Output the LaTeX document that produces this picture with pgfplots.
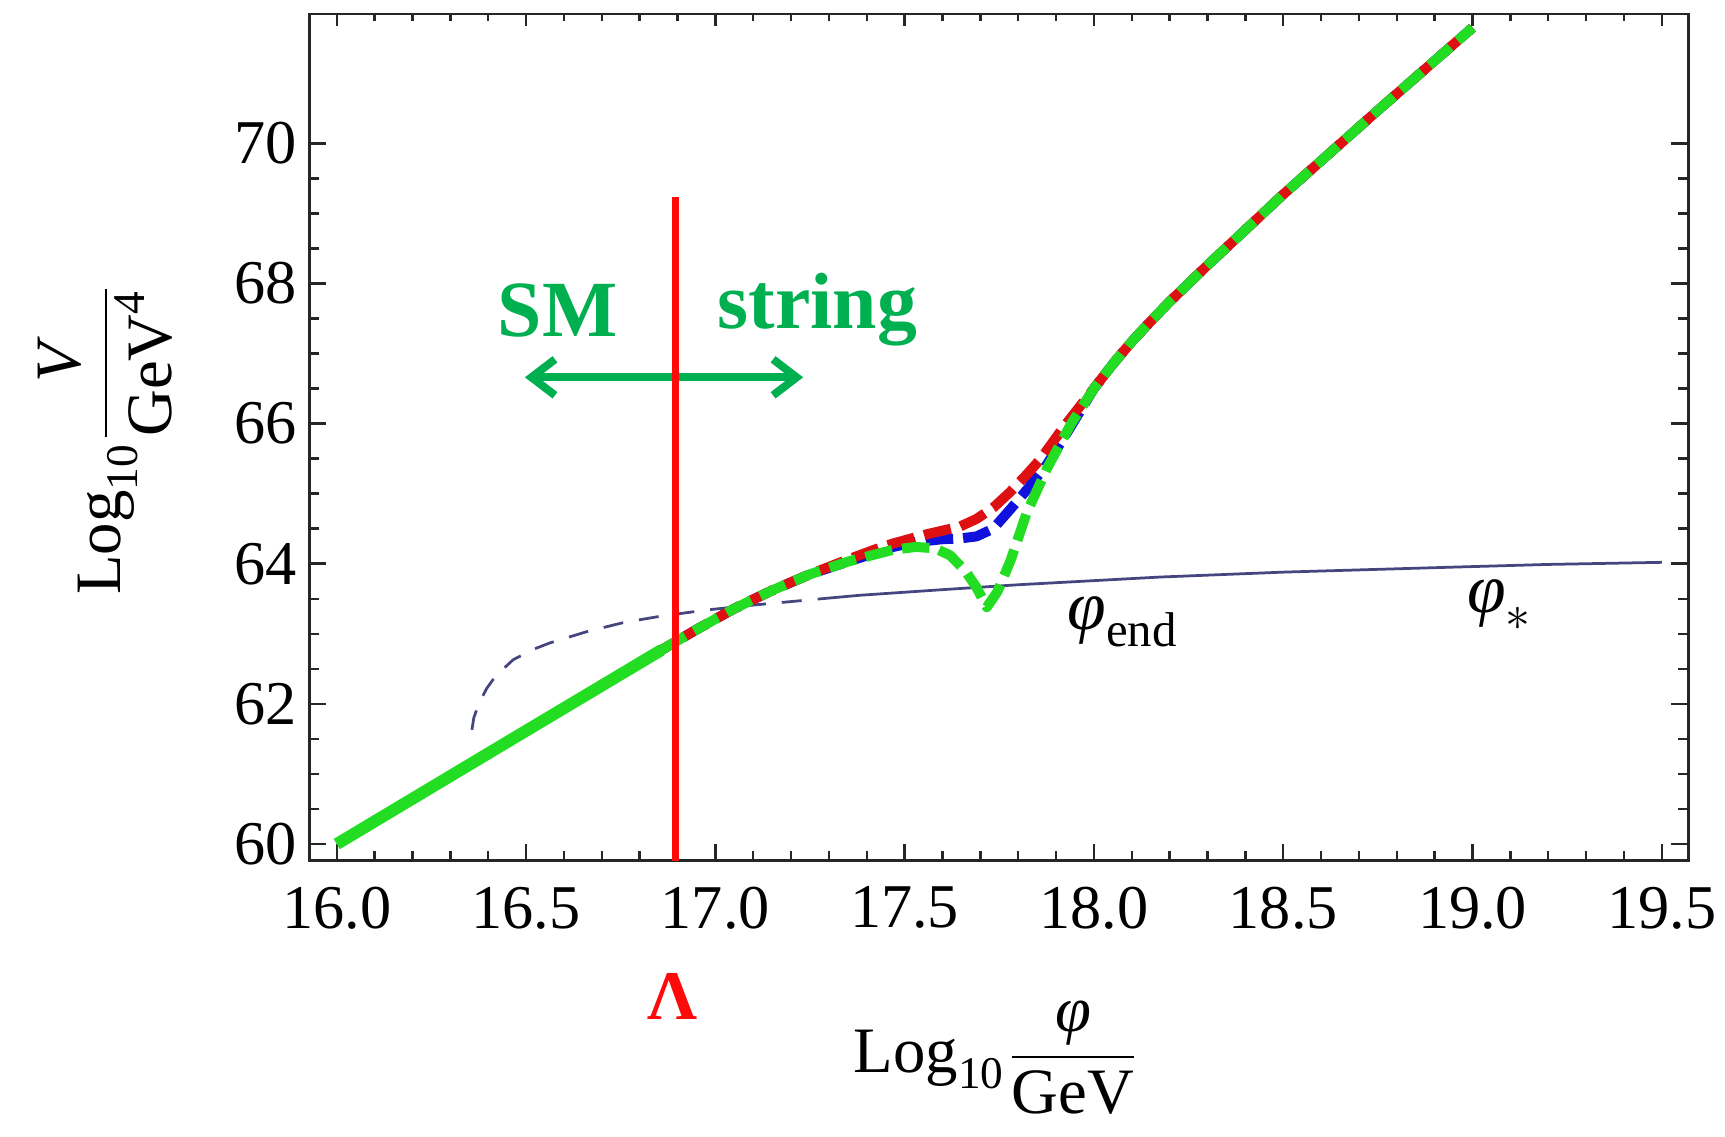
\documentclass[border=0pt]{standalone}
\usepackage{fontspec}
\setmainfont{Liberation Serif}
\usepackage{amsmath}
\usepackage{pgfplots}
\pgfplotsset{compat=1.18}
\usetikzlibrary{arrows.meta}

\definecolor{limegreen}{HTML}{22DD22}
\definecolor{curvered}{HTML}{DD1111}
\definecolor{curveblue}{HTML}{1111DD}
\definecolor{lambdared}{HTML}{FF0A0A}
\definecolor{thinnavy}{HTML}{45457F}
\definecolor{smgreen}{HTML}{00B050}

\pgfplotsset{
  boxframe/.style={
    scale only axis, width=275.76bp, height=169.34bp,
    xmin=15.928, xmax=19.570, ymin=59.762, ymax=71.845,
    xtick={16,16.5,17,17.5,18,18.5,19,19.5}, minor x tick num=4,
    tick align=inside,
    axis line style={line width=0.5bp, black!85},
    tick style={line width=0.5bp, black!85},
  },
}

\begin{document}
\begin{tikzpicture}
% short ticks along the top edge
\begin{axis}[boxframe, xtick pos=top, ytick=\empty,
  xticklabels={}, major tick length=2.4bp, minor tick length=1.5bp]
\end{axis}
\begin{axis}[boxframe,
  xtick pos=bottom,
  ytick={60,62,64,66,68,70}, minor y tick num=3,
  major tick length=3.4bp, minor tick length=2bp,
  /pgf/number format/assume math mode=true,
  tick label style={font=\fontsize{12.5}{14}\selectfont},
  xticklabel style={yshift=-1.7bp, /pgf/number format/fixed,
    /pgf/number format/fixed zerofill, /pgf/number format/precision=1},
  yticklabel style={xshift=1bp},
  clip=false,
  line join=round,
]
% thin curve: dashed part, then solid
\addplot[thinnavy, line width=0.55bp, dash pattern=on 4bp off 3.2bp] coordinates {
  (16.357,61.63) (16.362,61.80) (16.375,62.00) (16.396,62.22) (16.420,62.40)
  (16.466,62.63) (16.520,62.78) (16.563,62.87) (16.660,63.03) (16.757,63.16)
  (16.854,63.25) (16.977,63.34) (17.100,63.41) (17.200,63.46) (17.300,63.51)};
\addplot[thinnavy, line width=0.55bp] coordinates {
  (17.300,63.51) (17.382,63.55) (17.600,63.63) (17.800,63.70) (18.175,63.81)
  (18.500,63.88) (18.940,63.95) (19.200,63.99) (19.500,64.02)};

% blue dashed
\addplot[curveblue, line width=2bp, dash pattern=on 5.5bp off 2bp, dash phase=2.5bp] coordinates {
  (16.858,62.77) (16.95,63.06) (17.05,63.36) (17.15,63.62) (17.25,63.85) (17.35,64.03)
  (17.42,64.15) (17.47,64.24) (17.53,64.31) (17.60,64.35) (17.646,64.36) (17.69,64.39)
  (17.734,64.50) (17.778,64.77) (17.822,65.05) (17.875,65.41) (17.93,65.88) (18.0,66.5)
  (18.05,66.85) (18.1,67.17) (18.15,67.46) (18.2,67.74) (18.3,68.26) (18.5,69.27)
  (18.75,70.47) (19.0,71.65)};
% red dashed
\addplot[curvered, line width=2bp, dash pattern=on 5.5bp off 2bp, dash phase=2.5bp] coordinates {
  (16.858,62.77) (16.95,63.06) (17.05,63.36) (17.15,63.62) (17.25,63.85) (17.35,64.06)
  (17.42,64.20) (17.47,64.29) (17.558,64.42) (17.646,64.53) (17.69,64.64) (17.734,64.80)
  (17.778,65.02) (17.822,65.27) (17.86,65.50) (17.92,65.95) (18.0,66.5)
  (18.05,66.85) (18.1,67.17) (18.15,67.46) (18.2,67.74) (18.3,68.26) (18.5,69.27)
  (18.75,70.47) (19.0,71.65)};
% green dashed
\addplot[limegreen, line width=2bp, dash pattern=on 5.5bp off 2bp] coordinates {
  (16.858,62.77) (16.95,63.06) (17.05,63.36) (17.15,63.62) (17.25,63.85) (17.35,64.03)
  (17.42,64.13) (17.47,64.20) (17.53,64.24) (17.58,64.22) (17.62,64.12) (17.66,63.90)
  (17.69,63.66) (17.717,63.38) (17.745,63.60) (17.78,64.05) (17.822,64.72) (17.875,65.35)
  (17.94,66.0) (18.0,66.5) (18.05,66.85) (18.1,67.17) (18.15,67.46) (18.2,67.74)
  (18.3,68.26) (18.5,69.27) (18.75,70.47) (19.0,71.65)};
% green solid
\addplot[limegreen, line width=2.4bp] coordinates {(16.0,60.0) (16.43,61.39) (16.858,62.77)};

% SM / string arrow
\draw[smgreen, line width=1.6bp, {Straight Barb[length=4.7bp,width=7.2bp]}-{Straight Barb[length=4.7bp,width=7.2bp]}]
  (axis cs:16.497,66.66) -- (axis cs:17.232,66.66);
\node[anchor=base west, inner sep=0, text=smgreen, font=\fontsize{16}{18}\selectfont\bfseries]
  at (axis cs:16.423,67.236) {SM};
\node[anchor=base west, inner sep=0, text=smgreen, font=\fontsize{16}{18}\selectfont\bfseries]
  at (axis cs:17.004,67.364) {string};

% cutoff line
\addplot[lambdared, line width=1.35bp] coordinates {(16.894,59.762) (16.894,69.24)};
\node[anchor=base, inner sep=0, text=lambdared, font=\fontsize{14}{16}\selectfont\bfseries]
  at (axis cs:16.886,57.49) {Λ};

\node[font=\fontsize{14}{16}\selectfont] at (axis cs:18.078,63.17) {$\text{\itshape φ}_{\text{end}}$};
\node[font=\fontsize{14}{16}\selectfont] at (axis cs:19.073,63.41) {$\text{\itshape φ}_{*}$};

% axis labels
\node[font=\fontsize{13}{15}\selectfont] at (axis description cs:0.4986,-0.2327)
  {$\text{Log}_{\text{10}}\dfrac{\text{\itshape φ}}{\text{GeV}}$};
\node[rotate=90, font=\fontsize{13}{15}\selectfont] at (axis description cs:-0.1483,0.498)
  {$\text{Log}_{\text{10}}\dfrac{\text{\itshape V}}{\text{GeV}^{\text{4}}}$};
\end{axis}
\pgfresetboundingbox
\path (current axis.south west) ++(-61.9bp,-55.26bp) rectangle ([shift={(7.34bp,2.8bp)}]current axis.north east);
\end{tikzpicture}
\end{document}
